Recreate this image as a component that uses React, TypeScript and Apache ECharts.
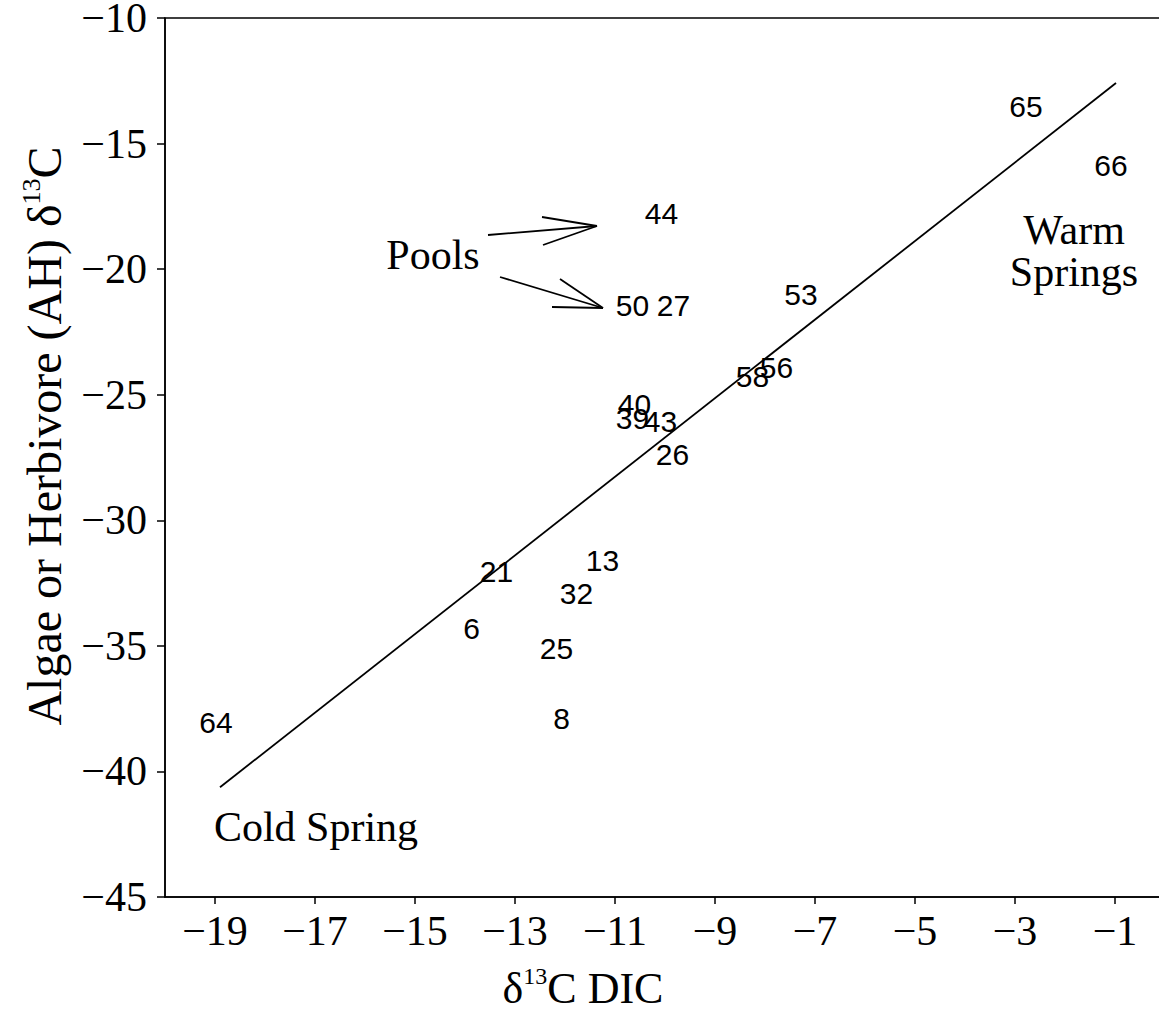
import React, { useEffect, useRef } from "react";
import * as echarts from "echarts";

const xTicks = [-19, -17, -15, -13, -11, -9, -7, -5, -3, -1];
const yTicks = [-45, -40, -35, -30, -25, -20, -15, -10];

const siteLabels = ["65", "66", "44", "50", "27", "53", "58", "56", "40", "39", "43", "26", "13", "21", "32", "6", "25", "8", "64"];
const dicValues = [-2.78, -1.08, -10.07, -10.65, -9.83, -7.28, -8.25, -7.77, -10.61, -10.65, -10.09, -9.85, -11.25, -13.37, -11.77, -13.87, -12.17, -12.07, -18.98];
const ahValues = [-13.54, -15.89, -17.77, -21.43, -21.43, -20.99, -24.26, -23.9, -25.37, -25.93, -26.05, -27.4, -31.62, -32.02, -32.9, -34.29, -35.09, -37.88, -38.04];

const fitX = [-18.9, -0.98];
const fitY = [-40.63, -12.59];

const minus = (v: number) => String(v).replace("-", "\u2212");

export default function App() {
  const ref = useRef<HTMLDivElement>(null);
  useEffect(() => {
    if (!ref.current) return;
    const chart = echarts.init(ref.current, null, { renderer: "svg" });
    const serif = "Liberation Serif";
    const sans = "Liberation Sans";
    const ln = (x1: number, y1: number, x2: number, y2: number) => ({
      type: "line",
      shape: { x1, y1, x2, y2 },
      style: { stroke: "#000", lineWidth: 1.8 },
      silent: true,
    });
    const txt = (s: string, x: number, y: number, size: number) => ({
      type: "text",
      x,
      y,
      style: { text: s, fontFamily: serif, fontSize: size, fill: "#000", align: "center", verticalAlign: "middle" },
      silent: true,
    });
    chart.setOption({
      animation: false,
      backgroundColor: "#fff",
      grid: {
        left: 165,
        top: 18,
        width: 1000,
        height: 879,
        outerBoundsMode: "none",
        containLabel: false,
        show: true,
        borderColor: "#000",
        borderWidth: 1.5,
      },
      xAxis: {
        type: "value",
        min: -20,
        max: 0,
        axisLine: { show: true, onZero: false, lineStyle: { color: "#000", width: 1.5 } },
        axisTick: { show: true, length: 7, customValues: xTicks, lineStyle: { color: "#000", width: 1.5 } },
        axisLabel: {
          customValues: xTicks,
          formatter: (v: number) => minus(v),
          fontFamily: serif,
          fontSize: 42,
          color: "#000",
          margin: 13,
        },
        splitLine: { show: false },
      },
      yAxis: {
        type: "value",
        min: -45,
        max: -10,
        axisLine: { show: true, onZero: false, lineStyle: { color: "#000", width: 1.5 } },
        axisTick: { show: true, length: 8, customValues: yTicks, lineStyle: { color: "#000", width: 1.5 } },
        axisLabel: {
          customValues: yTicks,
          formatter: (v: number) => minus(v),
          fontFamily: serif,
          fontSize: 42,
          color: "#000",
          margin: 18,
        },
        splitLine: { show: false },
      },
      series: [
        {
          type: "line",
          data: fitX.map((x, i) => [x, fitY[i]]),
          symbol: "none",
          lineStyle: { color: "#000", width: 1.8 },
          silent: true,
        },
        {
          type: "scatter",
          symbolSize: 0,
          itemStyle: { opacity: 1 },
          data: siteLabels.map((n, i) => ({ name: n, value: [dicValues[i], ahValues[i]] })),
          label: {
            show: true,
            position: "inside",
            formatter: (p: any) => p.name,
            fontFamily: sans,
            fontSize: 30,
            color: "#000",
            opacity: 1,
          },
          silent: true,
        },
      ],
      graphic: [
        txt("Pools", 433, 255, 42),
        txt("Warm", 1074, 230, 42),
        txt("Springs", 1074, 272, 42),
        txt("Cold Spring", 316, 827, 42),
        ln(488, 235, 597, 226),
        ln(542, 217, 597, 226),
        ln(543, 245, 597, 226),
        ln(500, 277, 603, 308),
        ln(560, 279, 603, 308),
        ln(552, 307, 603, 308),
        {
          type: "text",
          x: 583,
          y: 988,
          style: {
            text: "{a|\u03b4}{s|13}{a|C DIC}",
            align: "center",
            verticalAlign: "middle",
            rich: {
              a: { fontFamily: serif, fontSize: 44, fill: "#000", color: "#000", lineHeight: 48 },
              s: { fontFamily: serif, fontSize: 24, fill: "#000", color: "#000", verticalAlign: "top", lineHeight: 48 },
            },
          },
          silent: true,
        },
        {
          type: "text",
          x: 44,
          y: 436,
          rotation: Math.PI / 2,
          style: {
            text: "{a|Algae or Herbivore (AH) \u03b4}{s|13}{a|C}",
            align: "center",
            verticalAlign: "middle",
            rich: {
              a: { fontFamily: serif, fontSize: 48, fill: "#000", color: "#000", lineHeight: 52 },
              s: { fontFamily: serif, fontSize: 26, fill: "#000", color: "#000", verticalAlign: "top", lineHeight: 52 },
            },
          },
          silent: true,
        },
      ],
    });
    return () => chart.dispose();
  }, []);
  return (
    <div style={{ position: "absolute", left: 0, top: 0, width: 1159, height: 1015, overflow: "hidden", background: "#fff" }}>
      <div ref={ref} style={{ width: 1180, height: 1015 }} />
    </div>
  );
}
